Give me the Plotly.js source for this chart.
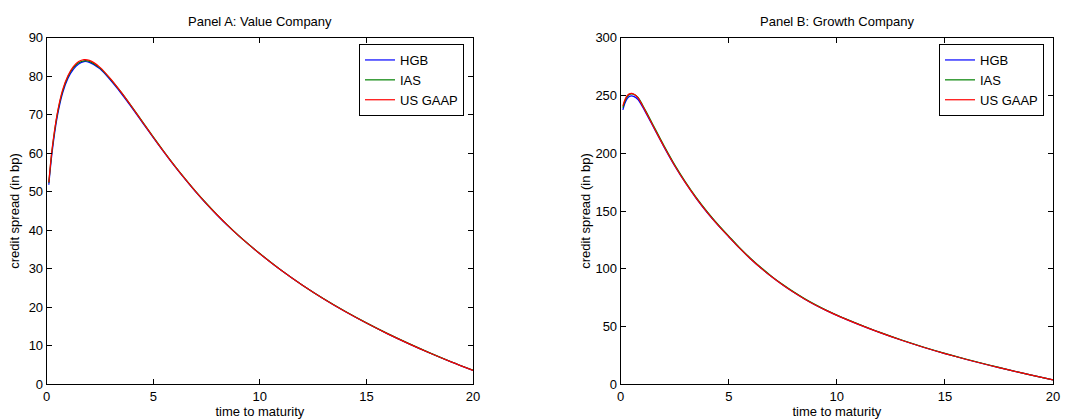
<!DOCTYPE html>
<html>
<head>
<meta charset="utf-8">
<script src="https://cdn.plot.ly/plotly-3.0.1.min.js"></script>
<style>html,body{margin:0;padding:0;background:#fff;}#chart{width:1072px;height:419px;}</style>
</head>
<body>
<div id="chart"></div>
<script>
// ---------- data ----------
const seriesNames = ["HGB", "IAS", "US GAAP"];
const panelTitles = ["Panel A: Value Company", "Panel B: Growth Company"];
const xTitle = "time to maturity";
const yTitle = "credit spread (in bp)";

// Panel A: Value Company
const tA = [0.1,0.25,0.5,0.75,1,1.25,1.5,1.75,2,2.5,3,3.5,4,4.5,5,5.5,6,6.5,7,7.5,8,8.5,9,9.5,10,11,12,13,14,15,16,17,18,19,20];
const hgbA = [51.8,60.0,69.6,75.7,79.5,81.8,83.2,83.8,83.6,81.9,78.9,75.5,71.8,67.9,64.05,60.3,56.65,53.2,49.9,46.8,43.9,41.15,38.6,36.2,33.9,29.6,25.7,22.15,18.9,15.9,13.1,10.5,8.05,5.75,3.6];
const iasA = [52.3,60.7,70.2,76.2,79.9,82.2,83.5,84.0,83.85,82.1,79.2,75.8,72.05,68.15,64.25,60.45,56.8,53.35,50.05,46.95,44.0,41.25,38.65,36.25,33.95,29.65,25.75,22.2,18.95,15.95,13.15,10.55,8.1,5.8,3.65];
const usgaapA = [52.5,61.0,70.5,76.5,80.2,82.5,83.8,84.3,84.1,82.3,79.3,75.8,72.0,68.05,64.15,60.35,56.7,53.25,49.95,46.85,43.95,41.2,38.6,36.2,33.9,29.6,25.7,22.15,18.9,15.9,13.1,10.5,8.05,5.75,3.6];

// Panel B: Growth Company
const tB = [0.1,0.2,0.3,0.4,0.5,0.6,0.8,1,1.25,1.5,1.75,2,2.5,3,3.5,4,4.5,5,5.5,6,6.5,7,7.5,8,8.5,9,9.5,10,11,12,13,14,15,16,17,18,19,20];
const hgbB = [237.5,243.5,247.3,249.2,249.6,249.2,246.5,240.5,231.8,223.1,214.2,205.5,189.0,174.2,160.8,148.7,137.8,127.7,117.8,108.7,100.4,92.8,85.9,79.6,73.9,68.7,64.0,59.7,51.9,44.7,38.1,32.1,26.6,21.5,16.7,12.2,7.9,3.8];
const iasB = [239.5,245.5,249.0,250.8,251.3,251.0,248.3,242.2,233.5,224.5,215.5,206.7,190.0,175.1,161.6,149.5,138.4,128.3,118.3,109.2,100.9,93.2,86.3,80.0,74.2,69.0,64.3,60.0,52.2,44.9,38.3,32.3,26.8,21.7,16.9,12.3,8.0,3.9];
const usgaapB = [241.0,246.5,249.8,251.4,251.8,251.2,248.0,241.5,232.6,223.6,214.6,205.8,189.2,174.3,160.9,148.8,137.8,127.7,117.8,108.7,100.4,92.8,85.9,79.6,73.9,68.7,64.0,59.7,51.9,44.7,38.1,32.1,26.6,21.5,16.7,12.2,7.9,3.8];

const colors = ["#0000ff", "#008000", "#ff0000"];

// ---------- traces ----------
const font = "Liberation Sans, Arial, Helvetica, sans-serif";
const traces = [];
[hgbA, iasA, usgaapA].forEach((y, i) => traces.push({
  x: tA, y: y, type: "scatter", mode: "lines", name: seriesNames[i],
  line: {color: colors[i], width: 1.2, shape: "spline", smoothing: 0.8},
  xaxis: "x", yaxis: "y", legend: "legend"
}));
[hgbB, iasB, usgaapB].forEach((y, i) => traces.push({
  x: tB, y: y, type: "scatter", mode: "lines", name: seriesNames[i],
  line: {color: colors[i], width: 1.2, shape: "spline", smoothing: 0.8},
  xaxis: "x2", yaxis: "y2", legend: "legend2"
}));

const W = 1072, H = 419;
const axCommon = {
  showline: true, linecolor: "#000", linewidth: 1, mirror: "ticks",
  ticks: "inside", ticklen: 5, tickwidth: 1, tickcolor: "#000",
  showgrid: false, zeroline: false, automargin: false,
  tickfont: {family: font, size: 13, color: "#000"}
};
const yDom = [1 - 384.3 / H, 1 - 37.7 / H];
const tFont = {family: font, size: 13, color: "#000"};

const layout = {
  width: W, height: H,
  margin: {l: 0, r: 0, t: 0, b: 0},
  paper_bgcolor: "#fff", plot_bgcolor: "#fff",
  font: tFont,
  showlegend: true,
  xaxis: Object.assign({}, axCommon, {domain: [46.7 / W, 473 / W], range: [0, 20], dtick: 5, anchor: "y",
    title: {text: xTitle, font: tFont, standoff: 4}}),
  yaxis: Object.assign({}, axCommon, {domain: yDom, range: [0, 90], dtick: 10, anchor: "x",
    title: {text: yTitle, font: tFont, standoff: 6}}),
  xaxis2: Object.assign({}, axCommon, {domain: [620.7 / W, 1053 / W], range: [0, 20], dtick: 5, anchor: "y2",
    title: {text: xTitle, font: tFont, standoff: 4}}),
  yaxis2: Object.assign({}, axCommon, {domain: yDom, range: [0, 300], dtick: 50, anchor: "x2",
    title: {text: yTitle, font: tFont, standoff: 1}}),
  legend: {x: 464 / W, xanchor: "right", y: 1 - 44 / H, yanchor: "top",
    bgcolor: "#fff", bordercolor: "#000", borderwidth: 1, font: tFont},
  legend2: {x: 1044 / W, xanchor: "right", y: 1 - 44 / H, yanchor: "top",
    bgcolor: "#fff", bordercolor: "#000", borderwidth: 1, font: tFont},
  annotations: [
    {text: panelTitles[0], xref: "paper", yref: "paper", x: 259.9 / W, y: 1 - 21.5 / H,
     xanchor: "center", yanchor: "middle", showarrow: false, font: tFont},
    {text: panelTitles[1], xref: "paper", yref: "paper", x: 836.9 / W, y: 1 - 21.5 / H,
     xanchor: "center", yanchor: "middle", showarrow: false, font: tFont}
  ]
};

Plotly.newPlot("chart", traces, layout, {displayModeBar: false, staticPlot: true});
</script>
</body>
</html>
